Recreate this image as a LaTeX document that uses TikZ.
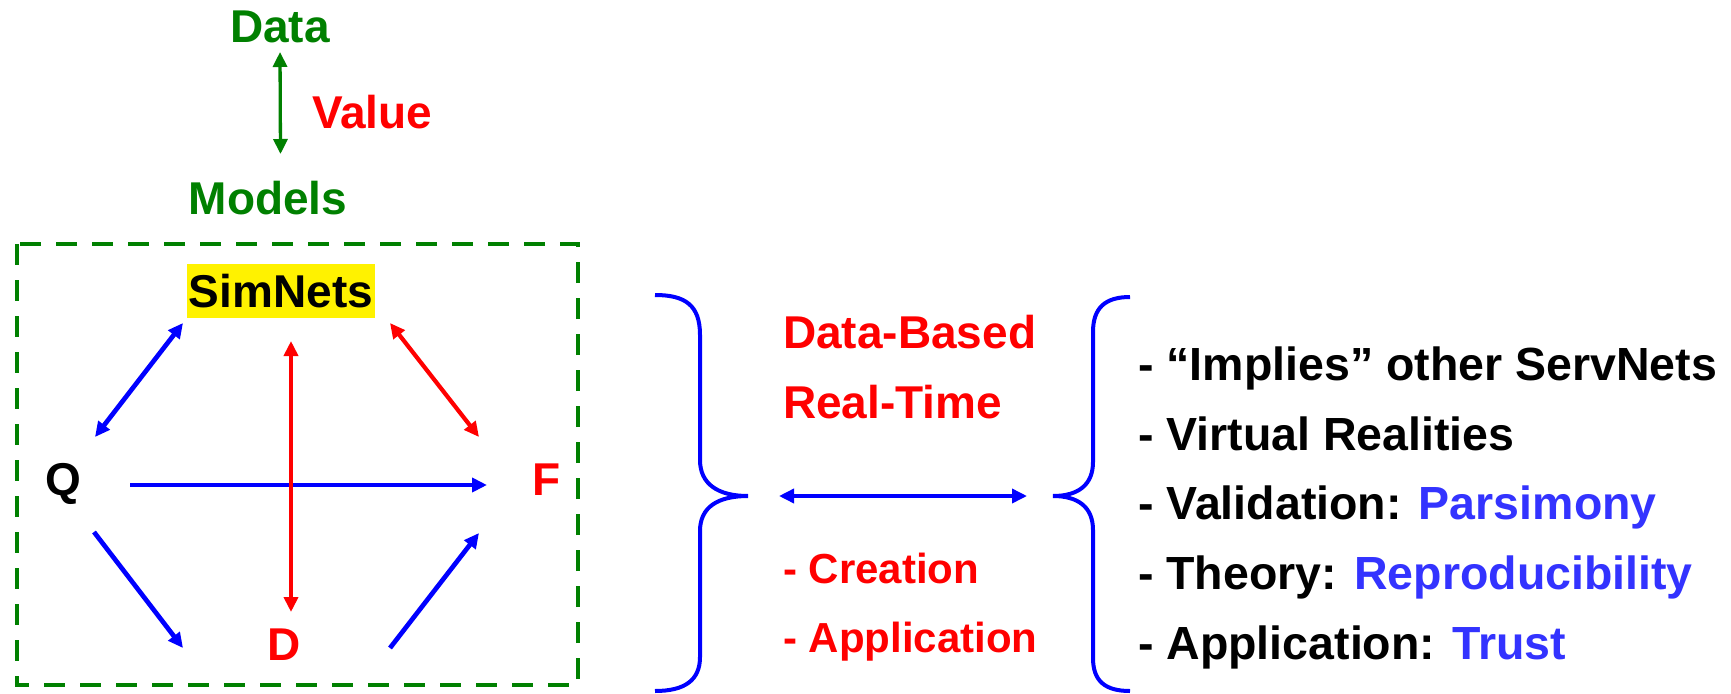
\documentclass[tikz,border=0pt]{standalone}
\usepackage{fontspec}
\setmainfont{Liberation Sans}
\usetikzlibrary{arrows.meta}
\definecolor{dgreen}{RGB}{0,128,0}
\definecolor{lblue}{RGB}{51,51,255}
\begin{document}
\begin{tikzpicture}[x=1pt,y=-1pt,
  >={Triangle[length=15pt,width=14pt]},
  diag/.style={font=\bfseries\fontsize{46}{50}\selectfont, inner sep=0pt},
  mid/.style={font=\bfseries\fontsize{46}{50}\selectfont, inner sep=0pt, text=red, anchor=base west},
  midsmall/.style={font=\bfseries\fontsize{42}{50}\selectfont, inner sep=0pt, text=red, anchor=base west},
  item/.style={font=\bfseries\fontsize{46.5}{50}\selectfont, inner sep=0pt, anchor=base west},
  barrow/.style={draw=blue, line width=4.7pt},
  rarrow/.style={draw=red, line width=4.2pt},
  garrow/.style={draw=dgreen, line width=3.3pt},
  brace/.style={draw=blue, line width=4pt}
]
\useasboundingbox[fill=white] (0,0) rectangle (1731,693);

% top
\node[diag, text=dgreen, anchor=base] (data) at (280,43) {Data};
\node[diag, text=red, anchor=base west] (value) at (312,128) {Value};
\node[diag, text=dgreen, anchor=base] (models) at (268,214) {Models};
\draw[garrow, <->] ([shift={(0,9)}]data.base) -- ([shift={(12.5,-60)}]models.base);

% dashed frame
\draw[dgreen, line width=4pt, dash pattern=on 21pt off 15pt] (17,244) rectangle (578,685);

% diagram nodes
\node[diag, fill=yellow, text=black, minimum width=188pt, text height=33pt, text depth=0pt, inner ysep=10.5pt] (sim) at (281,291) {SimNets};
\node[diag, anchor=base] (q) at (63,495) {Q};
\node[diag, text=red, anchor=base] (f) at (547,495) {F};
\node[diag, text=red, anchor=base] (d) at (284,660) {D};

\draw[barrow, <->] ([shift={(32,-58)}]q.base) -- ([shift={(-98,32)}]sim.center);
\draw[barrow, ->] ([shift={(67,-10)}]q.base) -- ([shift={(-60,-10)}]f.base);
\draw[barrow, ->] ([shift={(31,37)}]q.base) -- ([shift={(-101,-12)}]d.base);
\draw[barrow, ->] ([shift={(106,-12)}]d.base) -- ([shift={(-68,38)}]f.base);
\draw[rarrow, <->] ([shift={(109,32)}]sim.center) -- ([shift={(-68,-58)}]f.base);
\draw[rarrow, <->] ([shift={(10,50)}]sim.center) -- ([shift={(7,-48)}]d.base);

% braces
\draw[brace] (655,295) .. controls (685,295) and (700,305) .. (700,335) -- (700,460)
  .. controls (700,484) and (718,496) .. (748,496)
  .. controls (718,496) and (700,507) .. (700,531) -- (700,657)
  .. controls (700,680) and (685,691) .. (655,691);
\draw[brace] (1130,297) .. controls (1105,297) and (1093,308) .. (1093,332) -- (1093,462)
  .. controls (1093,485) and (1078,496) .. (1053,496)
  .. controls (1078,496) and (1093,507) .. (1093,530) -- (1093,658)
  .. controls (1093,681) and (1105,691) .. (1130,691);
\coordinate (lbt) at (748,496);
\coordinate (rbt) at (1053,496);
\draw[draw=blue, line width=3.5pt, <->, shorten <=31pt, shorten >=26pt] (lbt) -- (rbt);

% middle text
\node[mid] (db) at (783,348) {Data-Based};
\node[mid] (rt) at (783,418) {Real-Time};
\node[midsmall] (cr) at (783,583) {- Creation};
\node[midsmall] (ap) at (783,652) {- Application};

% right list
\node[item] (i1) at (1138,380) {- “Implies” other ServNets};
\node[item] (i2) at (1138,450) {- Virtual Realities};
\node[item] (i3) at (1138,519) {- Validation: \textcolor{lblue}{Parsimony}};
\node[item] (i4) at (1138,589) {- Theory: \textcolor{lblue}{Reproducibility}};
\node[item] (i5) at (1138,659) {- Application: \textcolor{lblue}{Trust}};
\end{tikzpicture}
\end{document}
